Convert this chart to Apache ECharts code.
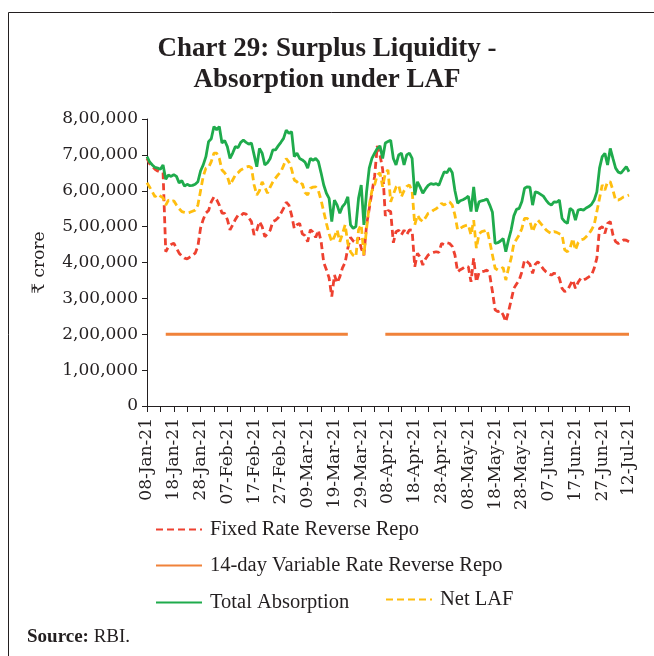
<!DOCTYPE html>
<html>
<head>
    <meta charset="utf-8">
    <title>Chart 29: Surplus Liquidity - Absorption under LAF</title>
    <script src="https://cdn.jsdelivr.net/npm/echarts@6/dist/echarts.min.js"></script>
    <style>
        html, body {
            margin: 0;
            padding: 0;
            background: #fff;
        }

        #main {
            width: 654px;
            height: 656px;
        }
    </style>
</head>
<body>
<div id="main"></div>
<script>
    // 数据（单位：₹ crore）
    var monthNames = ['Jan', 'Feb', 'Mar', 'Apr', 'May', 'Jun', 'Jul'];
    // 03-Jul 到 07-Jul 无数据
    var skipDays = ['03-Jul-21', '04-Jul-21', '05-Jul-21', '06-Jul-21', '07-Jul-21'];

    var categories = [];
    (function () {
        var d = new Date(2021, 0, 8);
        while (categories.length < 181) {
            var dd = d.getDate();
            var s = (dd < 10 ? '0' + dd : '' + dd) + '-' + monthNames[d.getMonth()] + '-21';
            if (skipDays.indexOf(s) < 0) {
                categories.push(s);
            }
            d.setDate(d.getDate() + 1);
        }
    })();

    var yTickLabels = ['0', '1,00,000', '2,00,000', '3,00,000', '4,00,000',
        '5,00,000', '6,00,000', '7,00,000', '8,00,000'];

    var fixedRateRR = [
        690000, 675000, 668000, 660000, 655000, 652000, 650000, 430000, 444000, 450000,
        454000, 440000, 426000, 418000, 412000, 410000, 415000, 420000, 426000, 445000,
        496000, 520000, 538000, 545000, 569000, 583000, 575000, 560000, 538000, 537000,
        520000, 491000, 505000, 520000, 532000, 530000, 537000, 535000, 525000, 514000,
        477000, 490000, 514000, 500000, 472000, 480000, 490000, 514000, 518000, 525000,
        537000, 551000, 568000, 560000, 532000, 495000, 505000, 509000, 480000, 475000,
        458000, 491000, 485000, 470000, 490000, 460000, 400000, 380000, 357000, 305000,
        365000, 343000, 360000, 385000, 400000, 440000, 470000, 460000, 455000, 470000,
        440000, 420000, 505000, 550000, 596000, 640000, 725000, 700000, 660000, 530000,
        545000, 542000, 455000, 486000, 490000, 477000, 490000, 478000, 491000, 490000,
        388000, 426000, 415000, 393000, 410000, 421000, 425000, 428000, 430000, 428000,
        453000, 450000, 455000, 453000, 445000, 421000, 374000, 380000, 384000, 390000,
        388000, 346000, 412000, 346000, 372000, 374000, 376000, 379000, 365000, 319000,
        268000, 263000, 266000, 254000, 235000, 263000, 295000, 328000, 340000, 351000,
        374000, 407000, 402000, 395000, 370000, 395000, 402000, 392000, 382000, 374000,
        368000, 365000, 370000, 368000, 356000, 328000, 319000, 322000, 337000, 351000,
        328000, 345000, 356000, 351000, 355000, 360000, 365000, 384000, 412000, 495000,
        500000, 481000, 509000, 514000, 477000, 458000, 453000, 458000, 463000, 462000,
        458000
    ];

    var variableRateRR = [
        null, null, null, null, null, null, null, 200000, 200000, 200000,
        200000, 200000, 200000, 200000, 200000, 200000, 200000, 200000, 200000, 200000,
        200000, 200000, 200000, 200000, 200000, 200000, 200000, 200000, 200000, 200000,
        200000, 200000, 200000, 200000, 200000, 200000, 200000, 200000, 200000, 200000,
        200000, 200000, 200000, 200000, 200000, 200000, 200000, 200000, 200000, 200000,
        200000, 200000, 200000, 200000, 200000, 200000, 200000, 200000, 200000, 200000,
        200000, 200000, 200000, 200000, 200000, 200000, 200000, 200000, 200000, 200000,
        200000, 200000, 200000, 200000, 200000, 200000, null, null, null, null,
        null, null, null, null, null, null, null, null, null, 200000,
        200000, 200000, 200000, 200000, 200000, 200000, 200000, 200000, 200000, 200000,
        200000, 200000, 200000, 200000, 200000, 200000, 200000, 200000, 200000, 200000,
        200000, 200000, 200000, 200000, 200000, 200000, 200000, 200000, 200000, 200000,
        200000, 200000, 200000, 200000, 200000, 200000, 200000, 200000, 200000, 200000,
        200000, 200000, 200000, 200000, 200000, 200000, 200000, 200000, 200000, 200000,
        200000, 200000, 200000, 200000, 200000, 200000, 200000, 200000, 200000, 200000,
        200000, 200000, 200000, 200000, 200000, 200000, 200000, 200000, 200000, 200000,
        200000, 200000, 200000, 200000, 200000, 200000, 200000, 200000, 200000, 200000,
        200000, 200000, 200000, 200000, 200000, 200000, 200000, 200000, 200000, 200000,
        200000
    ];

    var totalAbsorption = [
        695000, 680000, 672000, 665000, 663000, 660000, 672000, 632000, 644000, 640000,
        645000, 640000, 622000, 628000, 613000, 618000, 614000, 615000, 618000, 625000,
        655000, 672000, 695000, 737000, 745000, 779000, 770000, 779000, 733000, 740000,
        723000, 690000, 705000, 723000, 720000, 735000, 741000, 735000, 730000, 733000,
        700000, 667000, 718000, 705000, 672000, 678000, 690000, 714000, 714000, 725000,
        735000, 746000, 769000, 760000, 765000, 695000, 705000, 690000, 686000, 680000,
        663000, 690000, 685000, 690000, 681000, 650000, 616000, 593000, 579000, 514000,
        574000, 560000, 537000, 556000, 565000, 583000, 505000, 495000, 500000, 579000,
        616000, 505000, 597000, 663000, 690000, 705000, 718000, 725000, 690000, 733000,
        737000, 741000, 690000, 672000, 700000, 705000, 672000, 700000, 705000, 690000,
        588000, 625000, 610000, 593000, 605000, 615000, 620000, 618000, 620000, 615000,
        635000, 653000, 650000, 663000, 650000, 600000, 565000, 572000, 575000, 579000,
        585000, 542000, 611000, 542000, 569000, 572000, 574000, 577000, 560000, 540000,
        453000, 455000, 460000, 467000, 430000, 463000, 491000, 530000, 548000, 551000,
        570000, 607000, 611000, 610000, 560000, 597000, 595000, 590000, 585000, 574000,
        565000, 560000, 569000, 568000, 574000, 523000, 514000, 509000, 551000, 545000,
        518000, 546000, 548000, 546000, 552000, 556000, 562000, 574000, 597000, 663000,
        695000, 704000, 672000, 718000, 690000, 663000, 652000, 649000, 658000, 667000,
        653000
    ];

    var netLAF = [
        622000, 610000, 597000, 583000, 590000, 585000, 580000, 560000, 574000, 570000,
        572000, 560000, 550000, 542000, 540000, 538000, 540000, 543000, 546000, 560000,
        600000, 640000, 663000, 665000, 681000, 705000, 705000, 690000, 658000, 650000,
        640000, 616000, 630000, 644000, 650000, 658000, 662000, 666000, 668000, 665000,
        616000, 588000, 600000, 625000, 610000, 593000, 610000, 625000, 635000, 645000,
        653000, 670000, 690000, 680000, 660000, 630000, 625000, 616000, 620000, 595000,
        588000, 607000, 610000, 611000, 600000, 574000, 542000, 509000, 480000, 458000,
        472000, 491000, 458000, 480000, 505000, 453000, 430000, 420000, 416000, 491000,
        505000, 421000, 495000, 560000, 600000, 616000, 644000, 650000, 611000, 649000,
        658000, 569000, 590000, 610000, 616000, 583000, 600000, 612000, 616000, 600000,
        505000, 532000, 520000, 514000, 525000, 537000, 540000, 546000, 550000, 556000,
        565000, 560000, 567000, 569000, 560000, 532000, 491000, 495000, 500000, 503000,
        505000, 477000, 518000, 440000, 480000, 486000, 488000, 491000, 458000, 421000,
        384000, 379000, 382000, 386000, 351000, 384000, 412000, 453000, 465000, 477000,
        495000, 523000, 523000, 515000, 486000, 505000, 518000, 509000, 500000, 491000,
        485000, 481000, 486000, 484000, 480000, 477000, 435000, 430000, 440000, 467000,
        435000, 455000, 463000, 465000, 472000, 480000, 491000, 505000, 542000, 579000,
        616000, 602000, 625000, 625000, 602000, 574000, 574000, 578000, 583000, 585000,
        588000
    ];

    var serifFont = '"DejaVu Serif", serif';
    var titleFont = '"Liberation Serif", "DejaVu Serif", serif';

    var myChart = echarts.init(document.getElementById('main'), null, {renderer: 'canvas'});

    function legendBox(name, left, top) {
        return {
            data: [name],
            left: left,
            top: top,
            orient: 'horizontal',
            itemWidth: 46,
            itemHeight: 12,
            itemGap: 0,
            selectedMode: false,
            itemStyle: {opacity: 0},
            textStyle: {
                fontFamily: titleFont,
                fontSize: 20.5,
                color: '#231f20',
                padding: [0, 0, 0, 3]
            }
        };
    }

    var option = {
        backgroundColor: '#ffffff',
        animation: false,
        title: {
            text: 'Chart 29: Surplus Liquidity -\nAbsorption under LAF',
            left: 'center',
            top: 29,
            textStyle: {
                fontFamily: titleFont,
                fontWeight: 'bold',
                fontSize: 27,
                lineHeight: 31,
                color: '#231f20'
            }
        },
        legend: [
            legendBox('Fixed Rate Reverse Repo', 150, 514),
            legendBox('14-day Variable Rate Reverse Repo', 150, 550),
            legendBox('Total Absorption', 150, 587),
            legendBox('Net LAF', 380, 584)
        ],
        grid: {
            left: 147,
            right: 25,
            top: 119,
            bottom: 250
        },
        xAxis: {
            type: 'category',
            boundaryGap: false,
            data: categories,
            axisLine: {lineStyle: {color: '#231f20', width: 1}},
            axisTick: {
                show: true,
                interval: 4,
                length: 6,
                lineStyle: {color: '#231f20'}
            },
            axisLabel: {
                interval: 9,
                rotate: 90,
                margin: 12,
                fontFamily: serifFont,
                fontSize: 17,
                color: '#231f20'
            },
            splitLine: {show: false}
        },
        yAxis: {
            type: 'value',
            min: 0,
            max: 800000,
            interval: 100000,
            name: '₹ crore',
            nameLocation: 'middle',
            nameGap: 99,
            nameTextStyle: {
                fontFamily: serifFont,
                fontSize: 17,
                color: '#231f20'
            },
            axisLine: {show: true, lineStyle: {color: '#231f20', width: 1}},
            axisTick: {show: true, length: 5, lineStyle: {color: '#231f20'}},
            axisLabel: {
                margin: 9,
                fontFamily: serifFont,
                fontSize: 17,
                color: '#231f20',
                formatter: function (value) {
                    return yTickLabels[Math.round(value / 100000)];
                }
            },
            splitLine: {show: false}
        },
        graphic: [
            {
                type: 'rect',
                shape: {x: 8.5, y: 12.5, width: 800, height: 800},
                style: {fill: 'none', stroke: '#231f20', lineWidth: 1},
                silent: true
            },
            {
                type: 'text',
                left: 27,
                top: 628,
                style: {
                    text: '{b|Source:} RBI.',
                    rich: {
                        b: {
                            fontFamily: titleFont,
                            fontWeight: 'bold',
                            fontSize: 19,
                            fill: '#231f20'
                        }
                    },
                    fontFamily: titleFont,
                    fontSize: 19,
                    fill: '#231f20'
                }
            }
        ],
        series: [
            {
                name: 'Fixed Rate Reverse Repo',
                type: 'line',
                data: fixedRateRR,
                symbol: 'none',
                z: 3,
                lineStyle: {color: '#ee4130', width: 2.8, type: [7, 4]},
                itemStyle: {color: '#ee4130'}
            },
            {
                name: '14-day Variable Rate Reverse Repo',
                type: 'line',
                data: variableRateRR,
                symbol: 'none',
                connectNulls: false,
                z: 2,
                lineStyle: {color: '#f0823a', width: 2.8},
                itemStyle: {color: '#f0823a'}
            },
            {
                name: 'Total Absorption',
                type: 'line',
                data: totalAbsorption,
                symbol: 'none',
                z: 4,
                lineStyle: {color: '#1fab4c', width: 2.8},
                itemStyle: {color: '#1fab4c'}
            },
            {
                name: 'Net LAF',
                type: 'line',
                data: netLAF,
                symbol: 'none',
                z: 3,
                lineStyle: {color: '#ffbe0f', width: 2.8, type: [7, 4]},
                itemStyle: {color: '#ffbe0f'}
            }
        ]
    };
    myChart.setOption(option);
</script>
</body>
</html>
